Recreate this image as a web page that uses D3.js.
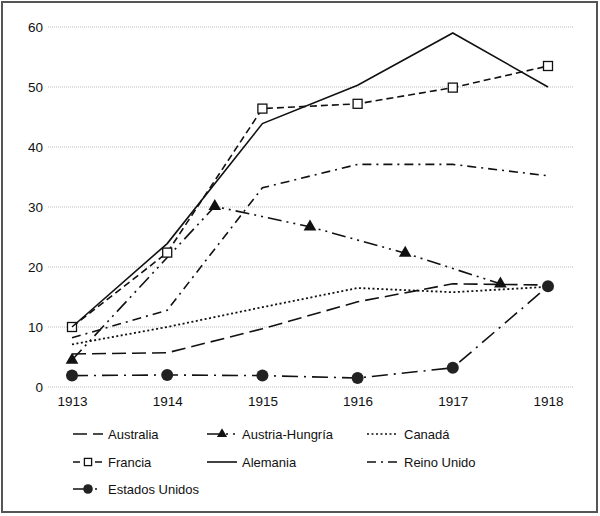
<!DOCTYPE html>
<html>
<head>
<meta charset="utf-8">
<script src="https://cdn.jsdelivr.net/npm/d3@7"></script>
<style>
    body { margin: 0; background: #fff; }
    svg { font-family: "Liberation Sans", Arial, sans-serif; }
</style>
</head>
<body>
<div id="chart"></div>
<script>
/* values */
const years = [1913, 1914, 1915, 1916, 1917, 1918];
const yTicks = [0, 10, 20, 30, 40, 50, 60];

const australia = [5.5, 5.7, 9.7, 14.2, 17.2, 17.0];
const austriaYears = [1913, 1914.5, 1915.5, 1916.5, 1917.5];
const austria = [4.5, 30.1, 26.7, 22.3, 17.2];
const canada = [7.1, 10.0, 13.3, 16.5, 15.8, 16.7];
const francia = [10.0, 22.4, 46.4, 47.2, 49.9, 53.5];
const alemania = [10.0, 23.9, 43.9, 50.3, 59.0, 50.0];
const reinoUnido = [8.2, 12.8, 33.2, 37.1, 37.1, 35.2];
const eeuu = [1.9, 2.0, 1.9, 1.5, 3.2, 16.8];

const seriesNames = ['Australia', 'Austria-Hungría', 'Canadá', 'Francia', 'Alemania', 'Reino Unido', 'Estados Unidos'];

const W = 600, H = 516;
const margin = { left: 48, right: 27, top: 27, bottom: 129 };

const svg = d3.select('#chart').append('svg')
    .attr('width', W)
    .attr('height', H);

// outer frame
svg.append('rect')
    .attr('x', 2).attr('y', 2)
    .attr('width', W - 5).attr('height', H - 6)
    .attr('fill', 'none')
    .attr('stroke', '#555')
    .attr('stroke-width', 2);

const xScale = d3.scaleLinear([1913, 1918], [72, 548]);
const yScale = d3.scaleLinear([0, 60], [387, 27]);

// gridlines
svg.append('g')
    .selectAll('line')
    .data(yTicks)
    .enter()
    .append('line')
        .attr('x1', margin.left)
        .attr('x2', W - margin.right)
        .attr('y1', d => yScale(d))
        .attr('y2', d => yScale(d))
        .attr('stroke', '#bbb')
        .attr('stroke-width', 1)
        .attr('stroke-dasharray', '1,1');

const yAxis = svg.append('g')
    .attr('transform', `translate(${margin.left - 5}, 0)`)
    .call(d3.axisLeft(yScale).tickValues(yTicks).tickSize(0).tickPadding(0));
yAxis.select('.domain').remove();
yAxis.selectAll('text').attr('font-size', 13.5).attr('fill', '#111')
    .attr('font-family', '"Liberation Sans", Arial, sans-serif');

const xAxis = svg.append('g')
    .attr('transform', `translate(0, ${yScale(0) + 9})`)
    .call(d3.axisBottom(xScale).tickValues(years).tickFormat(d3.format('d')).tickSize(0).tickPadding(0));
xAxis.select('.domain').remove();
xAxis.selectAll('text').attr('font-size', 13.5).attr('fill', '#111')
    .attr('font-family', '"Liberation Sans", Arial, sans-serif');

const series = [
    { name: seriesNames[0], xs: years, ys: australia, dash: '14,6', marker: null },
    { name: seriesNames[1], xs: austriaYears, ys: austria, dash: '14,5,2,5,2,5', marker: 'triangle' },
    { name: seriesNames[2], xs: years, ys: canada, dash: '2,2.5', marker: null },
    { name: seriesNames[3], xs: years, ys: francia, dash: '7,4', marker: 'square' },
    { name: seriesNames[4], xs: years, ys: alemania, dash: null, marker: null },
    { name: seriesNames[5], xs: years, ys: reinoUnido, dash: '9,5,2,5', marker: null },
    { name: seriesNames[6], xs: years, ys: eeuu, dash: '16,6,2,6', marker: 'circle' }
];

const line = d3.line()
    .x(d => xScale(d[0]))
    .y(d => yScale(d[1]));

function drawMarker (g, type, x, y, k = 1) {
    if (type === 'triangle') {
        g.append('path')
            .attr('d', d3.symbol(d3.symbolTriangle, 70 * k * k)())
            .attr('transform', `translate(${x}, ${y})`)
            .attr('fill', '#111');
    } else if (type === 'square') {
        const s = 9 * k;
        g.append('rect')
            .attr('x', x - s / 2).attr('y', y - s / 2)
            .attr('width', s).attr('height', s)
            .attr('fill', '#fff')
            .attr('stroke', '#111')
            .attr('stroke-width', 1.3);
    } else if (type === 'circle') {
        g.append('circle')
            .attr('cx', x).attr('cy', y)
            .attr('r', 6 * k)
            .attr('fill', '#222');
    }
}

const plot = svg.append('g');
series.forEach(s => {
    const pts = s.xs.map((x, i) => [x, s.ys[i]]);
    plot.append('path')
        .attr('d', line(pts))
        .attr('fill', 'none')
        .attr('stroke', '#111')
        .attr('stroke-width', s.name === 'Canadá' ? 1.8 : 1.6)
        .attr('stroke-dasharray', s.dash);
    if (s.marker) {
        pts.forEach(p => drawMarker(plot, s.marker, xScale(p[0]), yScale(p[1])));
    }
});

// legend
const colX = [73, 207, 367];
const rowY = [434, 462, 489];
const legend = svg.append('g');
series.forEach((s, i) => {
    const cx = colX[i % 3];
    const cy = rowY[Math.floor(i / 3)];
    legend.append('line')
        .attr('x1', cx).attr('x2', cx + 30)
        .attr('y1', cy).attr('y2', cy)
        .attr('stroke', '#111')
        .attr('stroke-width', 1.6)
        .attr('stroke-dasharray', s.dash ? s.dash : null);
    if (s.marker) drawMarker(legend, s.marker, cx + 15, cy, 0.8);
    legend.append('text')
        .attr('x', cx + (i % 3 === 2 ? 37 : 35))
        .attr('y', cy)
        .attr('dy', '0.35em')
        .attr('font-size', 13)
        .attr('fill', '#111')
        .text(s.name);
});
</script>
</body>
</html>
